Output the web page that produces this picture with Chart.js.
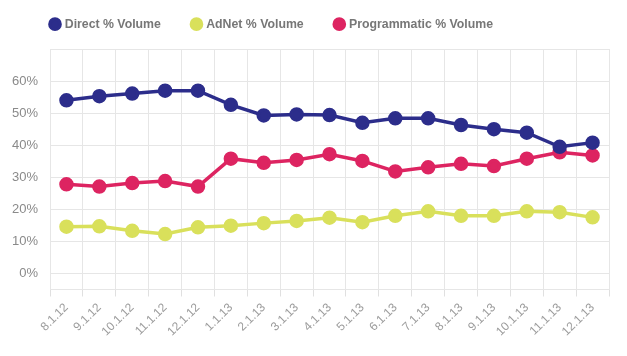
<!DOCTYPE html>
<html>
<head>
<meta charset="utf-8">
<script src="https://cdn.jsdelivr.net/npm/chart.js@4/dist/chart.umd.min.js"></script>
<style>
  html, body { margin: 0; padding: 0; background: #ffffff; }
  #wrap { width: 627px; height: 356px; position: relative; }
</style>
</head>
<body>
<div id="wrap"><canvas id="c" width="627" height="356"></canvas></div>
<script>
const categories = ['8.1.12','9.1.12','10.1.12','11.1.12','12.1.12','1.1.13','2.1.13','3.1.13','4.1.13','5.1.13','6.1.13','7.1.13','8.1.13','9.1.13','10.1.13','11.1.13','12.1.13'];
const directVolume = [54.0, 55.3, 56.1, 57.0, 57.0, 52.6, 49.3, 49.6, 49.4, 47.0, 48.4, 48.4, 46.3, 45.0, 43.9, 39.5, 40.8];
const adnetVolume = [14.6, 14.7, 13.3, 12.3, 14.4, 14.9, 15.7, 16.4, 17.4, 16.0, 18.0, 19.4, 18.0, 18.0, 19.4, 19.1, 17.5];
const programmaticVolume = [27.8, 27.1, 28.2, 28.8, 27.1, 35.8, 34.5, 35.4, 37.2, 35.1, 31.8, 33.1, 34.2, 33.5, 35.8, 37.8, 36.8];
const yTickValues = [-5, 0, 10, 20, 30, 40, 50, 60, 70];
const yLabelledMin = 0;
const yLabelledMax = 60;

const FONT = "'Liberation Sans', Arial, Helvetica, sans-serif";
const LEGEND_PAD = 32;
const PAD_LEFT = 12;

const legendTweak = {
  id: 'legendTweak',
  beforeInit(chart) {
    const origFit = chart.legend.fit;
    chart.legend.fit = function () {
      origFit.call(this);
      this.height = 49;
    };
  },
  afterLayout(chart) {
    chart.legend.top += 18 - LEGEND_PAD;
    chart.legend.left += 51.4 - PAD_LEFT - LEGEND_PAD;
  }
};

function ds(label, data, color) {
  return {
    label: label,
    data: data,
    borderColor: color,
    backgroundColor: color,
    pointBackgroundColor: color,
    pointBorderColor: color,
    borderWidth: 3.5,
    pointRadius: 5.5,
    pointHoverRadius: 6,
    tension: 0,
    fill: false
  };
}

new Chart(document.getElementById('c'), {
  type: 'line',
  data: {
    labels: categories,
    datasets: [
      ds('Direct % Volume', directVolume, '#2c2d8b'),
      ds('AdNet % Volume', adnetVolume, '#d9e05b'),
      ds('Programmatic % Volume', programmaticVolume, '#dd2461')
    ]
  },
  options: {
    responsive: false,
    animation: false,
    devicePixelRatio: 1,
    layout: { padding: { left: PAD_LEFT, right: 18, top: 0, bottom: 13 } },
    plugins: {
      legend: {
        position: 'top',
        align: 'start',
        labels: {
          usePointStyle: true,
          pointStyle: 'circle',
          boxWidth: 7.2,
          boxHeight: 7.2,
          padding: LEGEND_PAD,
          color: '#777777',
          font: { family: FONT, size: 12.3, weight: 'bold' }
        }
      },
      tooltip: { enabled: false }
    },
    scales: {
      x: {
        offset: true,
        afterFit(axis) {
          axis.paddingLeft = 0;
          axis.paddingRight = 0;
        },
        grid: {
          offset: true,
          color: '#e6e6e6',
          lineWidth: 1,
          drawTicks: true,
          tickLength: 7,
          tickColor: '#e0e0e0'
        },
        border: { color: '#e6e6e6' },
        ticks: {
          minRotation: 45,
          maxRotation: 45,
          padding: 4,
          color: '#9c9c9c',
          font: { family: FONT, size: 12 }
        }
      },
      y: {
        min: -5,
        max: 70,
        afterBuildTicks(axis) {
          axis.ticks = yTickValues.map(v => ({ value: v }));
        },
        afterFit(axis) {
          axis.width -= axis.options.ticks.padding;
        },
        grid: { color: '#e6e6e6', drawTicks: false },
        border: { color: '#e6e6e6' },
        ticks: {
          padding: 12,
          color: '#8a8a8a',
          font: { family: FONT, size: 13 },
          callback: v => (v >= yLabelledMin && v <= yLabelledMax) ? v + '%' : ''
        }
      }
    }
  },
  plugins: [legendTweak]
});
</script>
</body>
</html>
